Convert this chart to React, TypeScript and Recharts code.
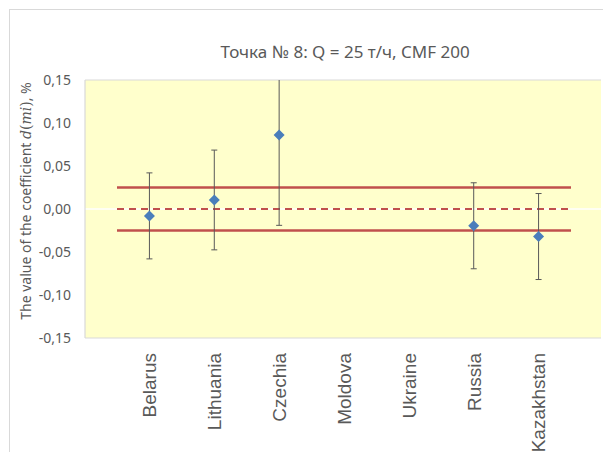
import React from 'react';
import {
  ComposedChart,
  Line,
  XAxis,
  YAxis,
  CartesianGrid,
  ReferenceLine,
  ErrorBar,
  usePlotArea,
} from 'recharts';

// categories and measured values (null = no measurement)
const countries = ['Belarus', 'Lithuania', 'Czechia', 'Moldova', 'Ukraine', 'Russia', 'Kazakhstan'];
const coefValues: (number | null)[] = [-0.008, 0.0105, 0.086, null, null, -0.0195, -0.032];
const coefErrors: (number | null)[] = [0.05, 0.058, 0.105, null, null, 0.05, 0.05];
const limits = [0.025, -0.025];
const yTicks = [-0.15, -0.1, -0.05, 0, 0.05, 0.1, 0.15];

const data = countries
  .map((name, i) => ({ name, x: i + 0.5, value: coefValues[i], err: coefErrors[i] }))
  .filter((d) => d.value !== null);

const xTicks = countries.map((_, i) => i + 0.5);

const GREY = '#595959';
const RED = '#c0504d';
const FONT = "'Noto Sans', 'Open Sans', sans-serif";

function Diamond(props: any) {
  const { cx, cy, index } = props;
  if (cx == null || cy == null) return <g key={index} />;
  const r = 5.5;
  return (
    <path
      key={index}
      d={`M${cx},${cy - r}L${cx + r},${cy}L${cx},${cy + r}L${cx - r},${cy}Z`}
      fill="#4a7ebb"
    />
  );
}

function CountryTick(props: any) {
  const { x, y, payload } = props;
  const name = countries[Math.round(payload.value - 0.5)];
  return (
    <text
      x={x}
      y={y}
      dy="0.36em"
      transform={`rotate(-90, ${x}, ${y})`}
      textAnchor="end"
      fill={GREY}
      fontSize={19}
      fontFamily="'Liberation Sans', Arial, sans-serif"
    >
      {name}
    </text>
  );
}

// clip for the error bars so the Czechia whisker stops at the plot top
function PlotClip() {
  const area = usePlotArea();
  if (!area) return null;
  return (
    <defs>
      <clipPath id="errClip">
        <rect x={area.x} y={area.y} width={area.width} height={area.height} />
      </clipPath>
    </defs>
  );
}

const fmt = (v: number) => v.toFixed(2).replace('.', ',');

export default function App() {
  return (
    <div style={{ position: 'absolute', left: 0, top: 0, width: 603, height: 452, background: '#fff', overflow: 'hidden' }}>
      <div
        style={{
          position: 'absolute',
          left: 9,
          top: 9,
          width: 600,
          height: 450,
          borderTop: '1.5px solid #d9d9d9',
          borderLeft: '1.5px solid #d9d9d9',
        }}
      />
      <svg width={603} height={452} style={{ position: 'absolute', left: 0, top: 0 }}>
        <text
          x={345}
          y={52}
          dy="0.35em"
          textAnchor="middle"
          fill={GREY}
          fontSize={17}
          fontFamily={FONT}
        >
          Точка № 8: Q = 25 т/ч, CMF 200
        </text>
        <text
          x={26}
          y={201}
          dy="0.35em"
          textAnchor="middle"
          transform="rotate(-90, 26, 201)"
          fill={GREY}
          fontSize={14}
          fontFamily={FONT}
        >
          The value of the coefficient{' '}
          <tspan fontFamily="'DejaVu Serif', serif" fontStyle="italic">d</tspan>
          <tspan fontFamily="'DejaVu Serif', serif">(</tspan>
          <tspan fontFamily="'DejaVu Serif', serif" fontStyle="italic">mi</tspan>
          <tspan fontFamily="'DejaVu Serif', serif">)</tspan>, %
        </text>
      </svg>
      <div style={{ position: 'absolute', left: 0, top: 0 }}>
        <ComposedChart width={603} height={452} data={data} margin={{ top: 80, right: 2, bottom: 14, left: 25 }}>
          <PlotClip />
          <CartesianGrid vertical={false} stroke="#d9d9d9" strokeWidth={1.2} fill="#ffffcc" fillOpacity={1} />
          <XAxis
            type="number"
            dataKey="x"
            domain={[0, 7]}
            ticks={xTicks}
            interval={0}
            padding={{ left: 32, right: 30 }}
            height={100}
            axisLine={false}
            tickLine={false}
            tickSize={0}
            tickMargin={15}
            tick={<CountryTick />}
          />
          <YAxis
            yAxisId="left"
            type="number"
            domain={[-0.15, 0.15]}
            ticks={yTicks}
            allowDataOverflow
            width={60}
            axisLine={{ stroke: '#d9d9d9', strokeWidth: 1.2 }}
            tickLine={false}
            tickSize={0}
            tickMargin={14}
            tickFormatter={fmt}
            tick={{ fill: GREY, fontSize: 14, fontFamily: FONT }}
          />
          <YAxis
            yAxisId="right"
            orientation="right"
            type="number"
            domain={[-0.15, 0.15]}
            width={0}
            axisLine={{ stroke: '#d9d9d9', strokeWidth: 1.2 }}
            tickLine={false}
            tick={false}
          />
          <ReferenceLine yAxisId="left" y={0} stroke="#ffffff" strokeWidth={1.5} />
          <ReferenceLine
            yAxisId="left"
            segment={[{ x: 0, y: limits[0] }, { x: 7, y: limits[0] }]}
            stroke={RED}
            strokeWidth={2.5}
          />
          <ReferenceLine
            yAxisId="left"
            segment={[{ x: 0, y: 0 }, { x: 7, y: 0 }]}
            stroke={RED}
            strokeWidth={2}
            strokeDasharray="7 5"
          />
          <ReferenceLine
            yAxisId="left"
            segment={[{ x: 0, y: limits[1] }, { x: 7, y: limits[1] }]}
            stroke={RED}
            strokeWidth={2.5}
          />
          <Line
            yAxisId="left"
            dataKey="value"
            stroke="none"
            isAnimationActive={false}
            dot={Diamond}
            activeDot={false}
          >
            <ErrorBar dataKey="err" direction="y" width={3} stroke={GREY} strokeWidth={1} clipPath="url(#errClip)" />
          </Line>
        </ComposedChart>
      </div>
    </div>
  );
}
